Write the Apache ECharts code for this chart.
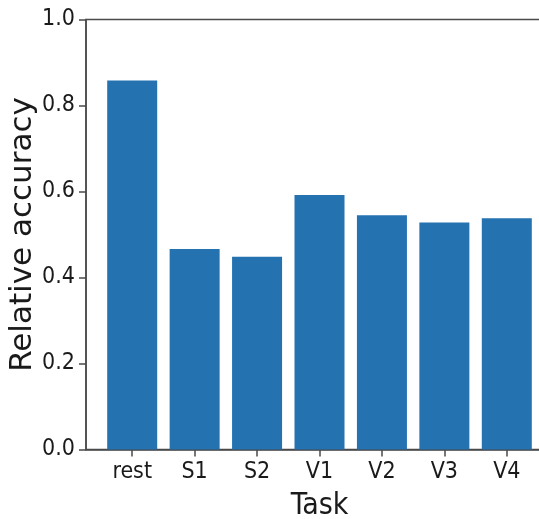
<!DOCTYPE html>
<html>
<head>
<meta charset="utf-8">
<script src="https://cdn.jsdelivr.net/npm/echarts@6/dist/echarts.min.js"></script>
<style>
  html, body { margin: 0; padding: 0; background: #fff; }
  #chart { width: 539px; height: 519px; }
</style>
</head>
<body>
<div id="chart"></div>
<script>
// Relative accuracy per task
const tasks = ['rest', 'S1', 'S2', 'V1', 'V2', 'V3', 'V4'];
const accuracy = [0.858, 0.466, 0.448, 0.592, 0.545, 0.528, 0.538];
const yTicks = [0, 0.2, 0.4, 0.6, 0.8, 1.0];

const ink = '#1a1a1a';
const spine = '#4a4a4a';
const tickFont = "'DejaVu Sans Condensed', 'DejaVu Sans', sans-serif";

const chart = echarts.init(document.getElementById('chart'), null, { renderer: 'canvas' });

chart.setOption({
  animation: false,
  backgroundColor: '#fff',
  grid: {
    left: 86,
    top: 19.5,
    bottom: 69.5,
    width: 467,
    containLabel: false,
    outerBoundsMode: 'none',
    show: true,
    borderColor: spine,
    borderWidth: 1.5,
    backgroundColor: 'transparent'
  },
  xAxis: {
    type: 'value',
    min: -0.74,
    max: 6.74,
    name: 'Task',
    nameLocation: 'middle',
    nameGap: 42,
    nameTextStyle: { fontSize: 30, color: ink, fontFamily: tickFont },
    splitLine: { show: false },
    axisLine: { show: true, onZero: false, lineStyle: { color: spine, width: 1.5 } },
    axisTick: {
      show: true,
      customValues: tasks.map((_, i) => i),
      length: 7,
      lineStyle: { color: spine, width: 1.5 }
    },
    axisLabel: {
      customValues: tasks.map((_, i) => i),
      formatter: v => tasks[Math.round(v)],
      margin: 11,
      fontSize: 23,
      color: ink,
      fontFamily: tickFont
    }
  },
  yAxis: {
    type: 'value',
    min: 0,
    max: 1,
    interval: 0.2,
    name: 'Relative accuracy',
    nameLocation: 'middle',
    nameGap: 48,
    nameMoveOverlap: false,
    nameTextStyle: { fontSize: 31, color: ink, fontFamily: "'DejaVu Sans', sans-serif" },
    splitLine: { show: false },
    axisLine: { show: true, onZero: false, lineStyle: { color: spine, width: 1.5 } },
    axisTick: { show: true, customValues: yTicks, length: 7, lineStyle: { color: spine, width: 1.5 } },
    axisLabel: {
      customValues: yTicks,
      formatter: v => v.toFixed(1),
      margin: 11,
      fontSize: 23,
      color: ink,
      fontFamily: tickFont
    }
  },
  series: [{
    type: 'bar',
    data: tasks.map((t, i) => [i, accuracy[i]]),
    barWidth: 50,
    itemStyle: { color: '#2572b1' }
  }]
});
</script>
</body>
</html>
